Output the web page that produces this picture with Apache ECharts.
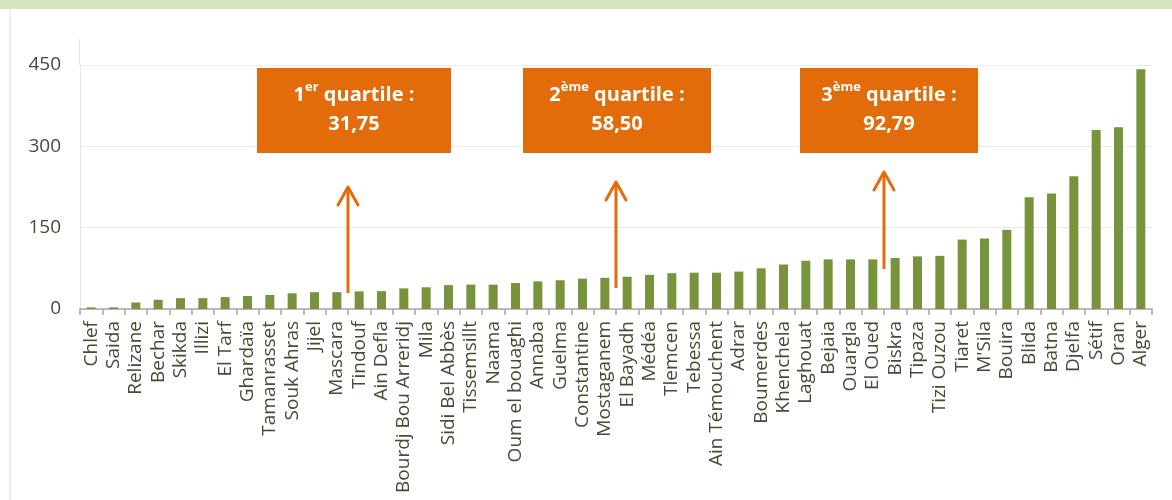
<!DOCTYPE html>
<html>
<head>
<meta charset="utf-8">
<script src="https://cdn.jsdelivr.net/npm/echarts@6/dist/echarts.min.js"></script>
<style>
  html, body { margin: 0; padding: 0; background: #fff; }
  #main { width: 1172px; height: 500px; }
</style>
</head>
<body>
<div id="main"></div>
<script>
// wilayas triées par valeur croissante
var wilayas = ['Chlef', 'Saida', 'Relizane', 'Bechar', 'Skikda', 'Illizi', 'El Tarf', 'Ghardaïa',
  'Tamanrasset', 'Souk Ahras', 'Jijel', 'Mascara', 'Tindouf', 'Ain Defla', 'Bourdj Bou Arreridj',
  'Mila', 'Sidi Bel Abbès', 'Tissemsillt', 'Naama', 'Oum el bouaghi', 'Annaba', 'Guelma',
  'Constantine', 'Mostaganem', 'El Bayadh', 'Médéa', 'Tlemcen', 'Tebessa', 'Ain Témouchent',
  'Adrar', 'Boumerdes', 'Khenchela', 'Laghouat', 'Bejaia', 'Ouargla', 'El Oued', 'Biskra',
  'Tipaza', 'Tizi Ouzou', 'Tiaret', "M'Sila", 'Bouira', 'Blida', 'Batna', 'Djelfa', 'Sétif',
  'Oran', 'Alger'];
var valeurs = [3, 3, 12, 17, 20, 20, 22, 24, 26, 29, 31, 31, 32.5, 33, 38, 40, 44, 45, 45, 48,
  51, 53, 56, 57.5, 59.5, 63, 66, 67, 67, 69, 75, 82, 89, 91.5, 91.5, 91.5, 94, 97, 98, 128,
  130, 146, 206, 213, 245, 330, 335, 442];
var yTicks = [0, 150, 300, 450];

// quartiles (texte des encadrés)
var quartileRang = ['1', '2', '3'];
var quartileExposant = ['er', 'ème', 'ème'];
var quartileValeur = ['31,75', '58,50', '92,79'];
var quartileEntre = [['Mascara', 'Tindouf'], ['Mostaganem', 'El Bayadh'], ['El Oued', 'Biskra']];

var textColor = '#4b4838';
var orange = '#e36c0a';

var myChart = echarts.init(document.getElementById('main'));

var option = {
  animation: false,
  backgroundColor: '#fff',
  grid: { left: 80, right: 20, top: 65, bottom: 191 },
  xAxis: {
    type: 'category',
    data: wilayas,
    boundaryGap: true,
    axisLine: { lineStyle: { color: '#a6a6a6', width: 1.5 } },
    axisTick: { show: true, length: 6, lineStyle: { color: '#a6a6a6', width: 1.5 } },
    axisLabel: {
      interval: 0,
      rotate: 90,
      margin: 12,
      color: textColor,
      fontFamily: 'Open Sans',
      fontSize: 19
    }
  },
  yAxis: {
    type: 'value',
    min: yTicks[0],
    max: yTicks[yTicks.length - 1],
    interval: 150,
    axisLine: { show: true, lineStyle: { color: '#e6e6da' } },
    axisTick: { show: false },
    splitLine: { lineStyle: { color: '#ececE4' } },
    axisLabel: {
      margin: 19,
      color: textColor,
      fontFamily: 'Open Sans',
      fontSize: 19
    }
  },
  series: [{
    type: 'bar',
    data: valeurs,
    barWidth: 9,
    itemStyle: { color: '#77933c' }
  }]
};

myChart.setOption(option);

// encadrés et flèches des quartiles
var arrowBottom = [293, 288, 269];
var arrowTop = [187, 182, 172];
var boxWidth = [194, 188, 178];
var boxShift = [6, 1, 5];
var graphics = [
  { type: 'rect', shape: { x: 0, y: 0, width: 1172, height: 9 }, style: { fill: '#d8e4bc' }, silent: true },
  { type: 'rect', shape: { x: 9, y: 9, width: 2, height: 491 }, style: { fill: '#efefe3' }, silent: true },
  { type: 'line', shape: { x1: 79.5, y1: 39, x2: 79.5, y2: 65 }, style: { stroke: '#e6e6da', lineWidth: 1 }, silent: true }
];
for (var i = 0; i < quartileRang.length; i++) {
  var xa = myChart.convertToPixel({ xAxisIndex: 0 }, quartileEntre[i][0]);
  var xb = myChart.convertToPixel({ xAxisIndex: 0 }, quartileEntre[i][1]);
  var cx = (xa + xb) / 2;
  var bx = cx + boxShift[i] - boxWidth[i] / 2;
  graphics.push({
    type: 'rect',
    shape: { x: bx, y: 68, width: boxWidth[i], height: 85 },
    style: { fill: orange },
    silent: true
  });
  graphics.push({
    type: 'text',
    x: bx + boxWidth[i] / 2,
    y: 110,
    style: {
      text: '{a|' + quartileRang[i] + '}{s|' + quartileExposant[i] + '}{a| quartile :}\n{a|' + quartileValeur[i] + '}',
      align: 'center',
      verticalAlign: 'middle',
      fill: '#fff',
      rich: {
        a: { fontFamily: 'Open Sans', fontWeight: 'bold', fontSize: 20, lineHeight: 29, fill: '#fff', color: '#fff' },
        s: { fontFamily: 'Open Sans', fontWeight: 'bold', fontSize: 13, lineHeight: 15, verticalAlign: 'top', fill: '#fff', color: '#fff' }
      }
    },
    silent: true
  });
  graphics.push({
    type: 'line',
    shape: { x1: cx, y1: arrowBottom[i], x2: cx, y2: arrowTop[i] + 1 },
    style: { stroke: orange, lineWidth: 3 },
    silent: true
  });
  graphics.push({
    type: 'polyline',
    shape: { points: [[cx - 10, arrowTop[i] + 18], [cx, arrowTop[i]], [cx + 10, arrowTop[i] + 18]] },
    style: { stroke: orange, lineWidth: 3, fill: null, lineCap: 'round', lineJoin: 'round' },
    silent: true
  });
}
myChart.setOption({ graphic: graphics });

window.addEventListener('resize', function () {
  myChart.resize();
});
</script>
</body>
</html>
